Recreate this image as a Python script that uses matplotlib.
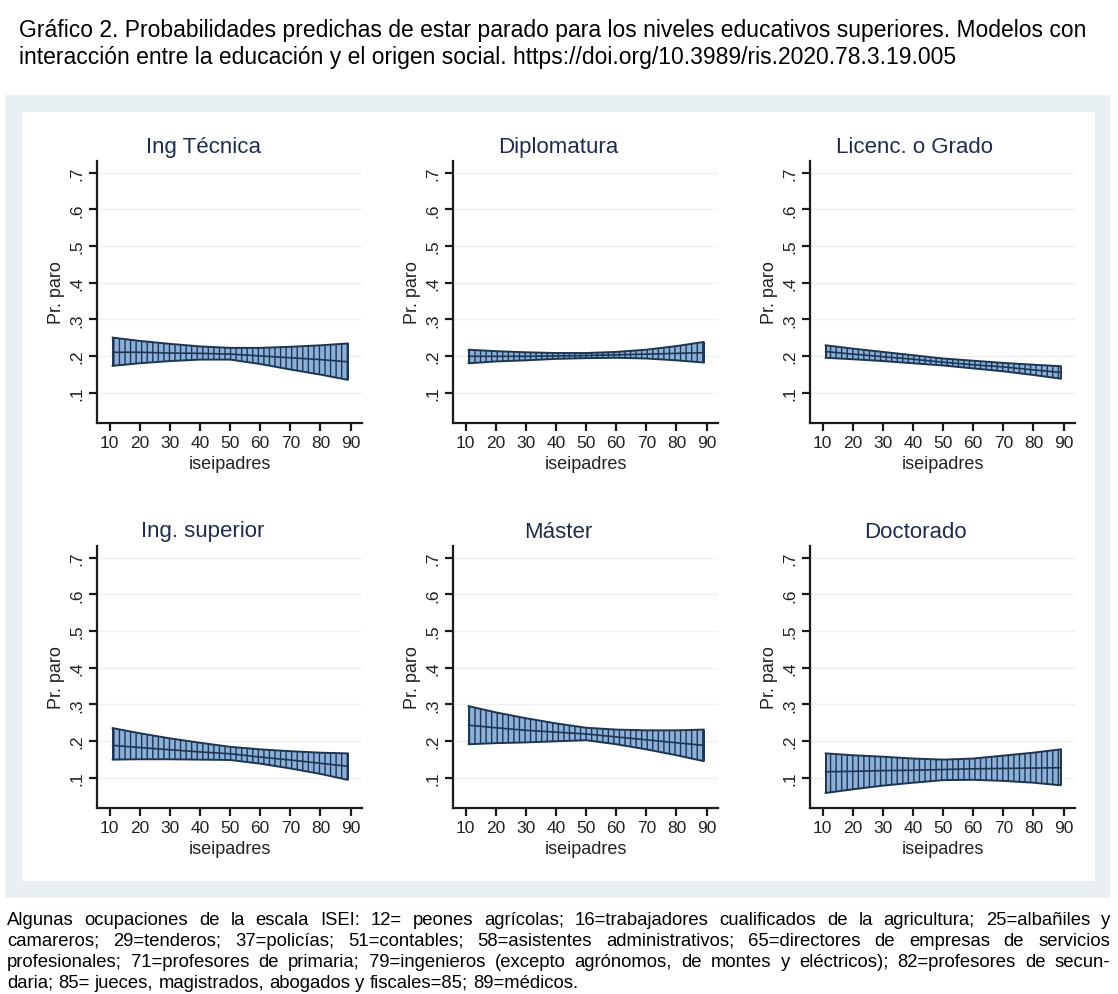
import numpy as np
import matplotlib.pyplot as plt
from matplotlib.patches import Rectangle

plt.rcParams['font.family'] = ['Liberation Sans', 'DejaVu Sans']
plt.rcParams['hatch.linewidth'] = 1.0

# values at a few iseipadres positions
isei = [11, 20, 30, 40, 50, 60, 70, 80, 89]

titles = ["Ing Técnica", "Diplomatura", "Licenc. o Grado",
          "Ing. superior", "Máster", "Doctorado"]

upper = [
    [0.250, 0.241, 0.233, 0.226, 0.222, 0.222, 0.225, 0.229, 0.234],
    [0.217, 0.213, 0.210, 0.208, 0.208, 0.211, 0.217, 0.227, 0.238],
    [0.229, 0.220, 0.211, 0.202, 0.193, 0.187, 0.181, 0.176, 0.172],
    [0.235, 0.221, 0.207, 0.195, 0.184, 0.177, 0.172, 0.168, 0.166],
    [0.295, 0.278, 0.262, 0.248, 0.236, 0.231, 0.229, 0.229, 0.231],
    [0.166, 0.161, 0.157, 0.152, 0.149, 0.152, 0.160, 0.168, 0.177],
]
lower = [
    [0.173, 0.180, 0.186, 0.190, 0.190, 0.178, 0.163, 0.149, 0.135],
    [0.180, 0.185, 0.188, 0.192, 0.194, 0.195, 0.193, 0.188, 0.182],
    [0.195, 0.191, 0.186, 0.180, 0.174, 0.166, 0.158, 0.148, 0.138],
    [0.149, 0.150, 0.150, 0.149, 0.148, 0.138, 0.125, 0.110, 0.094],
    [0.191, 0.194, 0.196, 0.199, 0.202, 0.191, 0.177, 0.161, 0.145],
    [0.058, 0.068, 0.078, 0.086, 0.093, 0.094, 0.091, 0.086, 0.079],
]
estimate = [
    [0.210, 0.210, 0.208, 0.207, 0.205, 0.200, 0.195, 0.190, 0.184],
    [0.199, 0.199, 0.199, 0.200, 0.201, 0.203, 0.205, 0.207, 0.209],
    [0.212, 0.205, 0.198, 0.191, 0.183, 0.176, 0.170, 0.162, 0.155],
    [0.188, 0.182, 0.176, 0.170, 0.165, 0.156, 0.148, 0.139, 0.131],
    [0.243, 0.236, 0.229, 0.224, 0.219, 0.211, 0.203, 0.195, 0.188],
    [0.116, 0.117, 0.119, 0.120, 0.122, 0.124, 0.125, 0.126, 0.127],
]

yticks = [0.1, 0.2, 0.3, 0.4, 0.5, 0.6, 0.7]
ytick_labels = [".1", ".2", ".3", ".4", ".5", ".6", ".7"]
xticks = [10, 20, 30, 40, 50, 60, 70, 80, 90]

title_text = ("Gráfico 2. Probabilidades predichas de estar parado para los niveles educativos superiores. Modelos con\n"
              "interacción entre la educación y el origen social. https://doi.org/10.3989/ris.2020.78.3.19.005")
note_lines = [
    "Algunas ocupaciones de la escala ISEI: 12= peones agrícolas; 16=trabajadores cualificados de la agricultura; 25=albañiles y",
    "camareros; 29=tenderos; 37=policías; 51=contables; 58=asistentes administrativos; 65=directores de empresas de servicios",
    "profesionales; 71=profesores de primaria; 79=ingenieros (excepto agrónomos, de montes y eléctricos); 82=profesores de secun-",
    "daria; 85= jueces, magistrados, abogados y fiscales=85; 89=médicos.",
]

W, H = 1118, 995
fig = plt.figure(figsize=(W / 100, H / 100), dpi=100)
fig.patch.set_facecolor("white")

def fx(px):
    return px / W

def fy(py):
    return 1 - py / H

# stata-like graph region
fig.patches.append(Rectangle((fx(5), fy(899)), fx(1110) - fx(5), fy(96) - fy(899),
                             transform=fig.transFigure, facecolor="#e9f0f1", edgecolor="none", zorder=-3))
fig.patches.append(Rectangle((fx(22), fy(882)), fx(1095) - fx(22), fy(113) - fy(882),
                             transform=fig.transFigure, facecolor="white", edgecolor="none", zorder=-2))

fig.text(fx(19), fy(44), title_text, fontsize=16.5, va="center", ha="left",
         linespacing=1.2, color="black")

navy = "#1c3553"
fill = "#8cb0d8"
lefts = [97, 453, 810]
bottoms = [424, 809]
aw, ah = 265, 262

for i in range(6):
    r, c = divmod(i, 3)
    ax = fig.add_axes([fx(lefts[c]), fy(bottoms[r]), aw / W, ah / H])
    ax.set_facecolor("none")
    x = np.array(isei)
    lo = np.array(lower[i])
    hi = np.array(upper[i])
    est = np.array(estimate[i])

    for yv in yticks:
        ax.axhline(yv, color="#efefef", lw=1.0, zorder=0)
    ax.fill_between(x, lo, hi, facecolor=fill, edgecolor=navy, hatch="|||",
                    linewidth=0, zorder=2)
    ax.plot(x, hi, color=navy, lw=1.4, zorder=3)
    ax.plot(x, lo, color=navy, lw=1.4, zorder=3)
    ax.plot(x, est, color=navy, lw=1.2, zorder=3)
    ax.vlines(x[[0, -1]], lo[[0, -1]], hi[[0, -1]], color=navy, lw=1.4, zorder=3)

    ax.set_xlim(5.8, 93.8)
    ax.set_ylim(0.017, 0.732)
    ax.set_yticks(yticks)
    ax.set_yticklabels(ytick_labels, rotation=90, va="center")
    ax.set_xticks(xticks)
    for s in ["top", "right"]:
        ax.spines[s].set_visible(False)
    for s in ["left", "bottom"]:
        ax.spines[s].set_linewidth(1.6)
        ax.spines[s].set_color("#1a1a1a")
    ax.tick_params(direction="out", length=6, width=1.6, color="#1a1a1a",
                   labelsize=12.5, labelcolor="#222222", pad=3)
    ax.set_xlabel("iseipadres", fontsize=13, color="#222222", labelpad=3)
    ax.set_ylabel("Pr. paro", fontsize=13, color="#222222", labelpad=3)

    tx = [203, 558, 915][c]
    ty = [147, 531][r]
    fig.text(fx(tx), fy(ty + 1), titles[i], fontsize=16, color="#1e2d4f",
             ha="center", va="center")

# justified note below the graph
renderer = fig.canvas.get_renderer()
x0, x1 = 7, 1110
line_y = [925, 946, 967, 988]
note_size = 13.3
for k, line in enumerate(note_lines):
    words = line.split(" ")
    texts = [fig.text(0, 0, w, fontsize=note_size, color="black", va="baseline", ha="left") for w in words]
    widths = [t.get_window_extent(renderer).width for t in texts]
    if k < len(note_lines) - 1:
        gap = (x1 - x0 - sum(widths)) / (len(words) - 1)
    else:
        sp = fig.text(0, 0, "a a", fontsize=note_size)
        sa = fig.text(0, 0, "aa", fontsize=note_size)
        gap = sp.get_window_extent(renderer).width - sa.get_window_extent(renderer).width
        sp.remove()
        sa.remove()
    cur = x0
    for t, w in zip(texts, widths):
        t.set_position((fx(cur), fy(line_y[k])))
        cur += w + gap

fig.savefig("out.png", dpi=100)
